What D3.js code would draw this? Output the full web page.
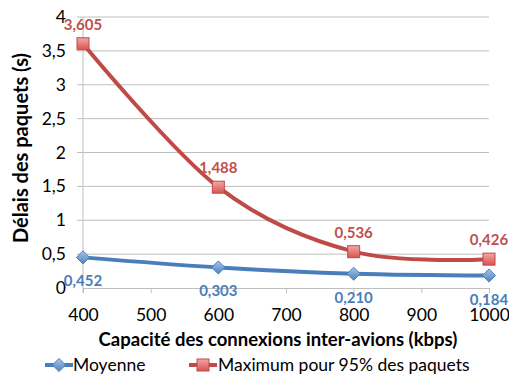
<!DOCTYPE html>
<html><head><meta charset="utf-8">
<script src="https://cdn.jsdelivr.net/npm/d3@7"></script>
<style>body{margin:0;background:#fff}svg text{font-family:Lato,"Open Sans",sans-serif}</style>
</head><body><svg id="c" width="509" height="376"></svg>
<script>
const categories = [400, 600, 800, 1000];
const moyenne = [0.452, 0.303, 0.210, 0.184];
const maximum = [3.605, 1.488, 0.536, 0.426];
const moyenneLabels = ["0,452", "0,303", "0,210", "0,184"];
const maximumLabels = ["3,605", "1,488", "0,536", "0,426"];
const xTicks = [400, 500, 600, 700, 800, 900, 1000];
const yTicks = [0, 0.5, 1, 1.5, 2, 2.5, 3, 3.5, 4];
const seriesNames = ["Moyenne", "Maximum pour 95% des paquets"];

const svg = d3.select("#c");
const x = d3.scaleLinear().domain([400, 1000]).range([83, 489]);
const y = d3.scaleLinear().domain([0, 4]).range([288, 17]);
const fmt = v => String(v).replace(".", ",");

// gridlines
svg.append("g").selectAll("line").data(yTicks.filter(d => d > 0)).join("line")
  .attr("x1", 77).attr("x2", 489).attr("y1", d => y(d)).attr("y2", d => y(d))
  .attr("stroke", "#bfbfbf").attr("stroke-width", 1);
// y axis line
svg.append("line").attr("x1", 83).attr("x2", 83).attr("y1", 17).attr("y2", 293).attr("stroke", "#bfbfbf");
// x axis
const xa = svg.append("g").attr("transform", `translate(0,${y(0)})`)
  .call(d3.axisBottom(x).tickValues(xTicks).tickSize(5).tickSizeOuter(0).tickFormat(d => d));
xa.select(".domain").attr("stroke", "#bfbfbf");
xa.selectAll(".tick line").attr("stroke", "#bfbfbf");
xa.selectAll(".tick text").attr("font-size", 17.5).attr("fill", "#000").attr("y", 0).attr("dy", "1.9em");
// y axis labels
const ya = svg.append("g").attr("transform", `translate(66,0)`)
  .call(d3.axisLeft(y).tickValues(yTicks).tickSize(0).tickFormat(fmt));
ya.select(".domain").remove();
ya.selectAll(".tick text").attr("font-size", 17.5).attr("fill", "#000").attr("x", 0);

// axis titles
svg.append("text").attr("x", 278).attr("y", 346).attr("text-anchor", "middle")
  .attr("font-size", 18.5).attr("font-weight", "bold").text("Capacité des connexions inter-avions (kbps)");
svg.append("text").attr("transform", "translate(28,148) rotate(-90)").attr("text-anchor", "middle")
  .attr("font-size", 20).attr("font-weight", "bold").text("Délais des paquets (s)");

const defs = svg.append("defs");
const gR = defs.append("linearGradient").attr("id", "gr").attr("x1", 0).attr("y1", 0).attr("x2", 0).attr("y2", 1);
gR.append("stop").attr("offset", 0).attr("stop-color", "#f4a7a5");
gR.append("stop").attr("offset", 1).attr("stop-color", "#d9534f");
const gB = defs.append("linearGradient").attr("id", "gb").attr("x1", 0).attr("y1", 0).attr("x2", 0).attr("y2", 1);
gB.append("stop").attr("offset", 0).attr("stop-color", "#a8c4ea");
gB.append("stop").attr("offset", 1).attr("stop-color", "#4f81bd");

const line = d3.line().curve(d3.curveCatmullRom.alpha(0)).x((d, i) => x(categories[i])).y(d => y(d));
const blue = "#4a7ebb", red = "#be4b48";

svg.append("path").attr("d", line(moyenne)).attr("fill", "none").attr("stroke", blue).attr("stroke-width", 4);
svg.append("path").attr("d", line(maximum)).attr("fill", "none").attr("stroke", red).attr("stroke-width", 4);

const diamond = d3.symbol().type(d3.symbolDiamond2).size(110);
svg.append("g").selectAll("path").data(moyenne).join("path")
  .attr("d", diamond).attr("transform", (d, i) => `translate(${x(categories[i])},${y(d)})`)
  .attr("fill", "url(#gb)").attr("stroke", "#4a7ebb").attr("stroke-width", 1);
svg.append("g").selectAll("rect").data(maximum).join("rect")
  .attr("x", (d, i) => x(categories[i]) - 6).attr("y", d => y(d) - 6).attr("width", 12).attr("height", 12)
  .attr("fill", "url(#gr)").attr("stroke", "#be4b48").attr("stroke-width", 1);

// data labels
svg.append("g").selectAll("text").data(maximum).join("text")
  .attr("x", (d, i) => x(categories[i])).attr("y", d => y(d) - 14).attr("text-anchor", "middle")
  .attr("font-size", 15).attr("font-weight", "bold").attr("fill", "#c0504d").text((d, i) => maximumLabels[i]);
svg.append("g").selectAll("text").data(moyenne).join("text")
  .attr("x", (d, i) => x(categories[i])).attr("y", d => y(d) + 29).attr("text-anchor", "middle")
  .attr("font-size", 15).attr("font-weight", "bold").attr("fill", "#4a7ebb").text((d, i) => moyenneLabels[i]);

// legend
const lg = svg.append("g");
lg.append("line").attr("x1", 45).attr("x2", 73).attr("y1", 365).attr("y2", 365).attr("stroke", blue).attr("stroke-width", 4);
lg.append("path").attr("d", diamond).attr("transform", "translate(59,365)").attr("fill", "url(#gb)").attr("stroke", blue);
lg.append("text").attr("x", 73).attr("y", 371).attr("font-size", 17.5).text(seriesNames[0]);
lg.append("line").attr("x1", 189).attr("x2", 217).attr("y1", 365).attr("y2", 365).attr("stroke", red).attr("stroke-width", 4);
lg.append("rect").attr("x", 197).attr("y", 359).attr("width", 12).attr("height", 12).attr("fill", "url(#gr)").attr("stroke", red);
lg.append("text").attr("x", 218).attr("y", 371).attr("font-size", 17.5).text(seriesNames[1]);
</script></body></html>
